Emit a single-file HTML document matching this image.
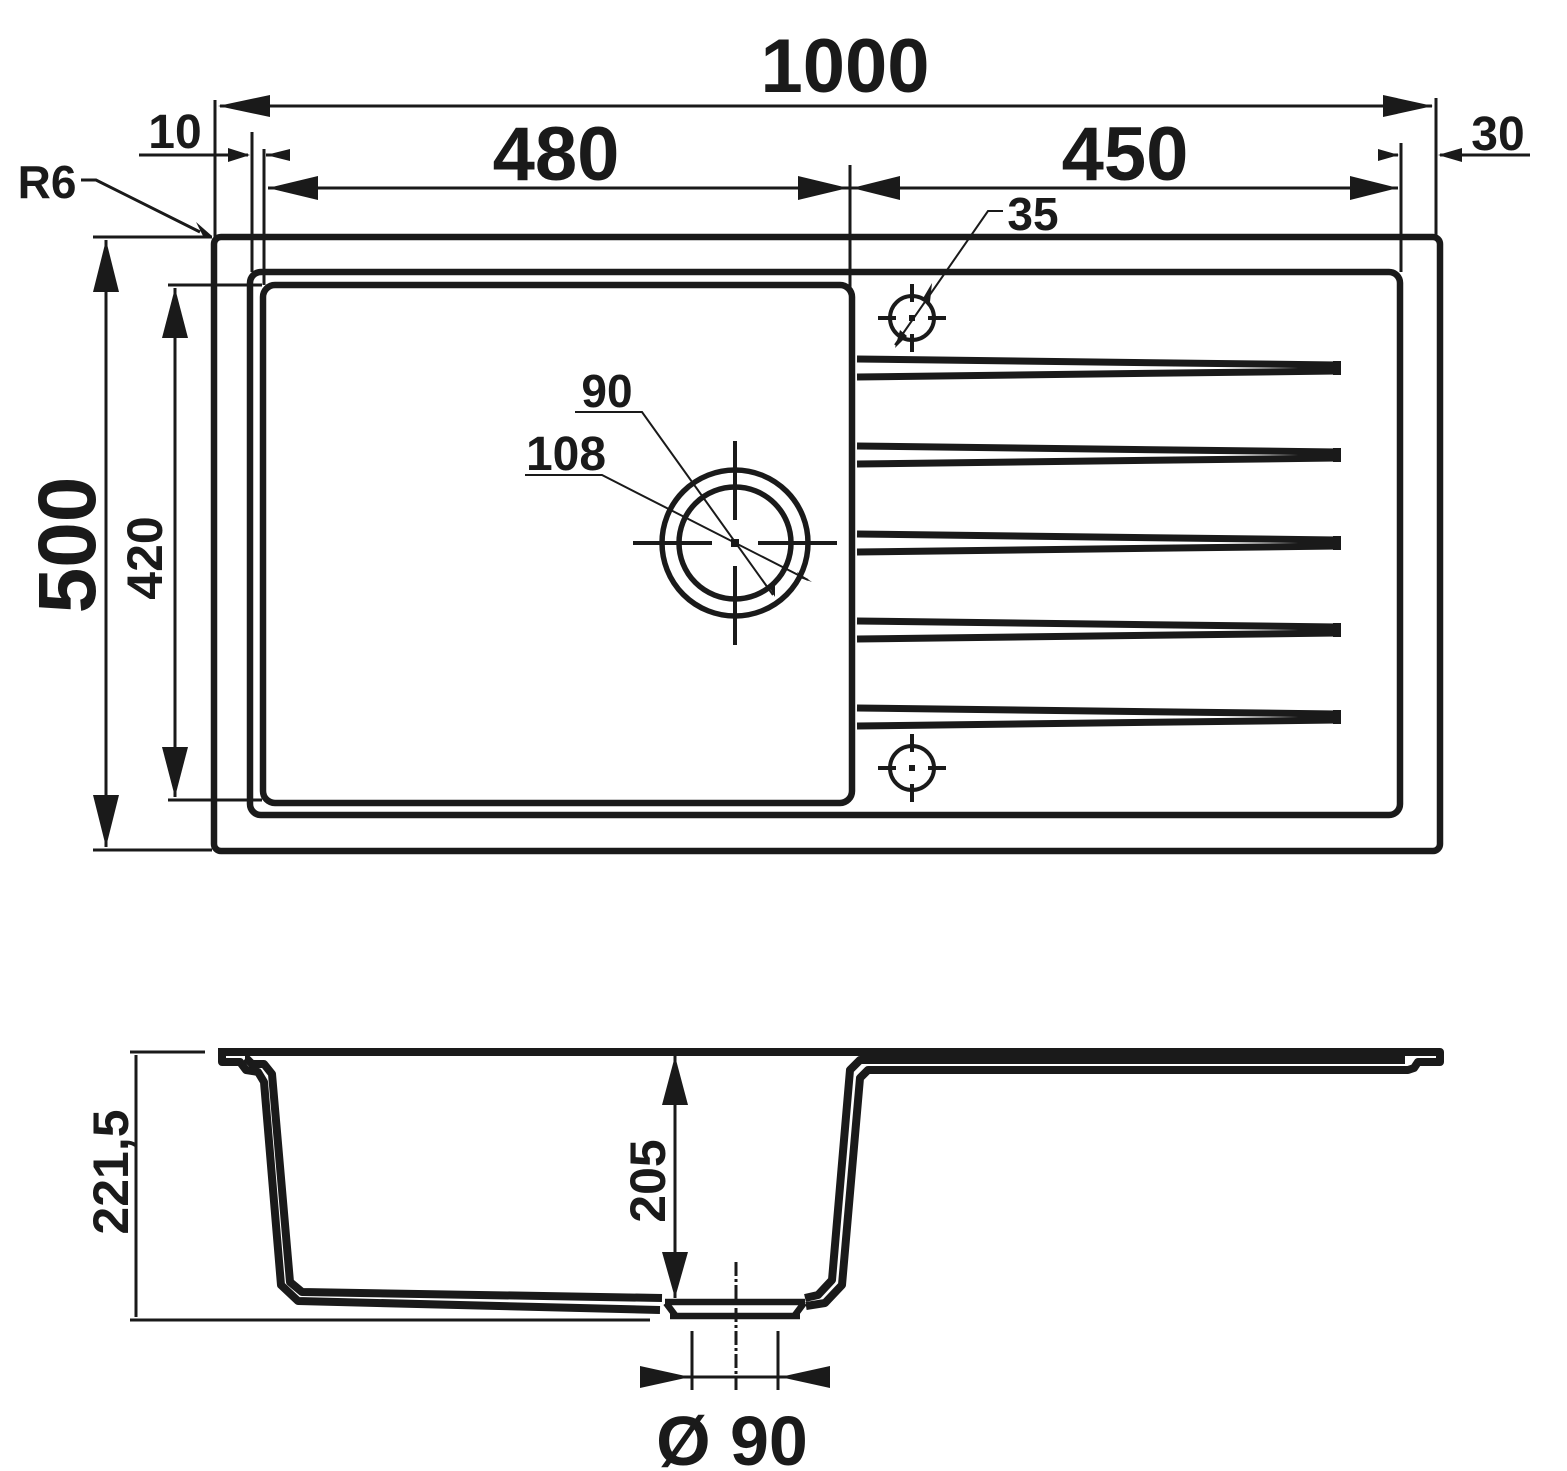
<!DOCTYPE html>
<html><head><meta charset="utf-8"><style>
html,body{margin:0;padding:0;background:#fff;}
svg{display:block;}
text{font-family:"Liberation Sans",sans-serif;font-weight:bold;fill:#1a1a1a;}
</style></head><body>
<svg width="1567" height="1471" viewBox="0 0 1567 1471" xmlns="http://www.w3.org/2000/svg">
<g stroke="#1a1a1a" fill="none" stroke-linecap="butt">
<rect x="214" y="237" width="1226" height="614" rx="7" stroke-width="6.5"/>
<rect x="250" y="272" width="1150" height="543" rx="11" stroke-width="6.5"/>
<rect x="263" y="285" width="589" height="518" rx="12" stroke-width="6.5"/>

<line x1="215" y1="100" x2="215" y2="237" stroke-width="3"/>
<line x1="1436" y1="98" x2="1436" y2="237" stroke-width="3"/>
<line x1="220" y1="106" x2="1432" y2="106" stroke-width="3"/>
<line x1="252" y1="132" x2="252" y2="272" stroke-width="3"/>
<line x1="264" y1="149" x2="264" y2="285" stroke-width="3"/>
<line x1="139" y1="155" x2="248" y2="155" stroke-width="3"/>
<line x1="266" y1="155" x2="290" y2="155" stroke-width="3"/>
<line x1="850" y1="165" x2="850" y2="290" stroke-width="3"/>
<line x1="268" y1="188" x2="1398" y2="188" stroke-width="3"/>
<line x1="1401" y1="143" x2="1401" y2="272" stroke-width="3"/>
<line x1="1378" y1="155" x2="1398" y2="155" stroke-width="3"/>
<line x1="1440" y1="155" x2="1530" y2="155" stroke-width="3"/>
<polyline points="81,180 96,180 200,232" stroke-width="3"/>
<line x1="93" y1="237" x2="212" y2="237" stroke-width="3"/>
<line x1="93" y1="850" x2="212" y2="850" stroke-width="3"/>
<line x1="106" y1="240" x2="106" y2="847" stroke-width="3"/>
<line x1="168" y1="285" x2="262" y2="285" stroke-width="3"/>
<line x1="168" y1="800" x2="262" y2="800" stroke-width="3"/>
<line x1="175" y1="288" x2="175" y2="797" stroke-width="3"/>

<g stroke-width="4">
<circle cx="912" cy="318" r="22"/>
<line x1="878" y1="318" x2="896" y2="318"/><line x1="928" y1="318" x2="946" y2="318"/>
<line x1="912" y1="284" x2="912" y2="302"/><line x1="912" y1="334" x2="912" y2="352"/>
<circle cx="912" cy="768" r="22"/>
<line x1="878" y1="768" x2="896" y2="768"/><line x1="928" y1="768" x2="946" y2="768"/>
<line x1="912" y1="734" x2="912" y2="752"/><line x1="912" y1="784" x2="912" y2="802"/>
</g>
<rect x="909" y="315" width="6" height="6" fill="#1a1a1a" stroke="none"/>
<rect x="909" y="765" width="6" height="6" fill="#1a1a1a" stroke="none"/>
<polyline points="1003,211 988,211 895,345" stroke-width="2"/>

<circle cx="735" cy="543" r="73" stroke-width="5.5"/>
<circle cx="735" cy="543" r="56" stroke-width="5.5"/>
<g stroke-width="4">
<line x1="633" y1="543" x2="712" y2="543"/><line x1="758" y1="543" x2="837" y2="543"/>
<line x1="735" y1="441" x2="735" y2="520"/><line x1="735" y1="566" x2="735" y2="645"/>
</g>
<rect x="731" y="539" width="8" height="8" fill="#1a1a1a" stroke="none"/>
<polyline points="575,412 642,412 773,595" stroke-width="2"/>
<polyline points="525,475 602,475 808,580" stroke-width="2"/>

<g stroke-width="7">
<polyline points="857,359 1337,365"/><polyline points="857,377 1337,371"/>
<polyline points="857,446 1337,452"/><polyline points="857,464 1337,458"/>
<polyline points="857,534 1337,540"/><polyline points="857,552 1337,546"/>
<polyline points="857,621 1337,627"/><polyline points="857,639 1337,633"/>
<polyline points="857,708 1337,714"/><polyline points="857,726 1337,720"/>
</g>
<g fill="#1a1a1a" stroke="none">
<rect x="1333" y="361" width="8" height="14"/><rect x="1333" y="448" width="8" height="14"/>
<rect x="1333" y="536" width="8" height="14"/><rect x="1333" y="623" width="8" height="14"/>
<rect x="1333" y="710" width="8" height="14"/>
</g>

<g stroke-width="8" stroke-linejoin="round">
<polyline points="218,1052 1440,1052 1440,1062 1418,1062 1414,1068 1408,1070 868,1070 860,1078 842,1285 825,1303 806,1306"/>
<polyline points="222,1052 222,1062 240,1062 246,1070 258,1072 264,1082 281,1285 298,1301 660,1310"/>
<polyline points="245,1058 246,1058 252,1064 264,1064 272,1074 290,1282 302,1292 662,1298"/>
<polyline points="1405,1060 860,1060 850,1070 832,1280 818,1295 805,1298"/>
</g>
<g stroke-width="6.5">
<line x1="665" y1="1302" x2="805" y2="1302"/>
<line x1="670" y1="1316" x2="800" y2="1316"/>
<line x1="666" y1="1303" x2="675" y2="1315"/><line x1="804" y1="1303" x2="795" y2="1315"/>
</g>
<line x1="675" y1="1056" x2="675" y2="1298" stroke-width="3"/>
<line x1="130" y1="1052" x2="205" y2="1052" stroke-width="3"/>
<line x1="130" y1="1320" x2="650" y2="1320" stroke-width="3"/>
<line x1="136" y1="1055" x2="136" y2="1317" stroke-width="3"/>
<line x1="692" y1="1331" x2="692" y2="1390" stroke-width="3"/>
<line x1="778" y1="1331" x2="778" y2="1390" stroke-width="3"/>
<line x1="736" y1="1262" x2="736" y2="1390" stroke-width="3" stroke-dasharray="14,3,3,3"/>
<line x1="640" y1="1377" x2="830" y2="1377" stroke-width="3"/>
</g>

<g fill="#1a1a1a">
<polygon points="218,106 270,95 270,117"/>
<polygon points="1433,106 1383,95 1383,117"/>
<polygon points="250,155 228,148 228,162"/>
<polygon points="266,155 290,149 290,161"/>
<polygon points="268,188 318,176 318,200"/>
<polygon points="848,188 798,176 798,200"/>
<polygon points="852,188 900,176 900,200"/>
<polygon points="1398,188 1350,176 1350,200"/>
<polygon points="1399,155 1378,149 1378,161"/>
<polygon points="1438,155 1462,148 1462,162"/>
<polygon points="212,236 196,222 203,236"/>
<polygon points="106,240 93,292 119,292"/>
<polygon points="106,847 93,795 119,795"/>
<polygon points="175,288 162,338 188,338"/>
<polygon points="175,797 162,747 188,747"/>
<polygon points="675,1056 662,1105 688,1105"/>
<polygon points="675,1298 662,1252 688,1252"/>
<polygon points="690,1377 640,1366 640,1388"/>
<polygon points="780,1377 830,1366 830,1388"/>
<polygon points="932,283 922,300 930,302"/>
<polygon points="895,348 900,330 907,336"/>
<polygon points="775,597 768,585 775,582"/>
<polygon points="812,582 797,572 800,578"/>
</g>

<text x="845" y="92" font-size="76" text-anchor="middle">1000</text>
<text x="556" y="180" font-size="76" text-anchor="middle">480</text>
<text x="1125" y="180" font-size="76" text-anchor="middle">450</text>
<text x="175" y="148" font-size="48" text-anchor="middle">10</text>
<text x="1498" y="150" font-size="48" text-anchor="middle">30</text>
<text x="47" y="198" font-size="46" text-anchor="middle">R6</text>
<text x="1033" y="230" font-size="46" text-anchor="middle">35</text>
<text x="607" y="407" font-size="46" text-anchor="middle">90</text>
<text x="566" y="470" font-size="48" text-anchor="middle">108</text>
<text transform="translate(95,545) rotate(-90)" font-size="82" text-anchor="middle">500</text>
<text transform="translate(162,558) rotate(-90)" font-size="50" text-anchor="middle">420</text>
<text transform="translate(665,1181) rotate(-90)" font-size="50" text-anchor="middle">205</text>
<text transform="translate(128,1172) rotate(-90)" font-size="50" text-anchor="middle">221,5</text>
<text x="732" y="1465" font-size="70" text-anchor="middle">Ø 90</text>
</svg>
</body></html>
